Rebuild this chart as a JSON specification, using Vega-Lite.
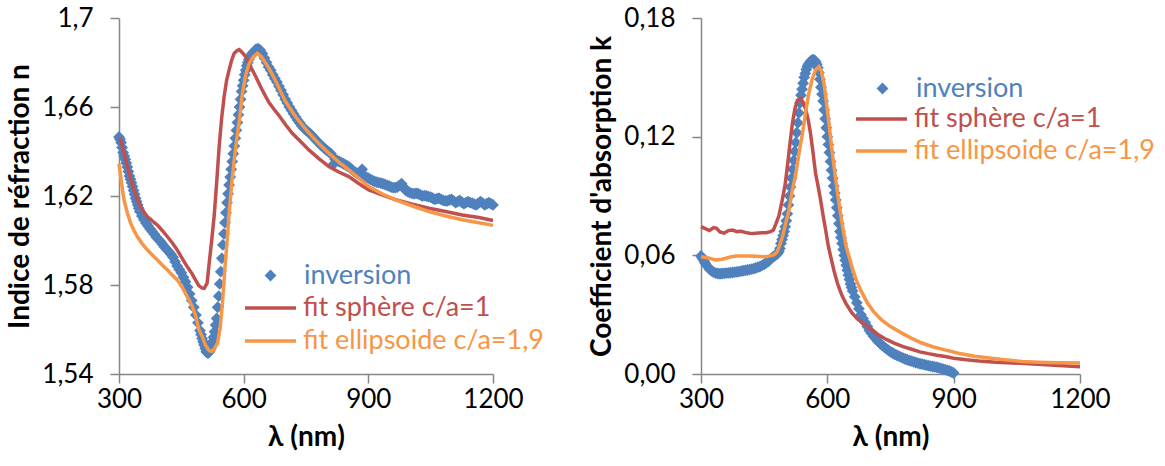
{
  "$schema": "https://vega.github.io/schema/vega-lite/v6.json",
  "padding": {"left": 6, "top": 5, "right": 5, "bottom": 5},
  "background": "white",
  "config": {
    "font": "Lato",
    "view": {"stroke": null},
    "axis": {
      "grid": false,
      "domainColor": "#868686", "domainWidth": 1.5,
      "tickColor": "#868686", "tickWidth": 1.5, "tickSize": 9,
      "labelFont": "Lato", "labelFontSize": 26, "labelColor": "#000000",
      "titleFont": "Lato", "titleFontSize": 28, "titleFontWeight": "bold", "titleColor": "#000000",
      "labelOverlap": false, "labelFlush": false
    },
    "axisX": {"labelPadding": 3, "titlePadding": 11},
    "axisY": {"labelPadding": 17, "titlePadding": 7},
    "legend": {"labelFont": "Lato", "labelFontSize": 27, "labelLimit": 0, "padding": 0, "title": null}
  },
  "datasets": {
    "left": [
      {"lambda": 300, "v": 1.6465, "s": "inversion"},
      {"lambda": 302.5, "v": 1.6455, "s": "inversion"},
      {"lambda": 305, "v": 1.6440, "s": "inversion"},
      {"lambda": 307.5, "v": 1.6418, "s": "inversion"},
      {"lambda": 310, "v": 1.6395, "s": "inversion"},
      {"lambda": 312.5, "v": 1.6380, "s": "inversion"},
      {"lambda": 315, "v": 1.6365, "s": "inversion"},
      {"lambda": 317.5, "v": 1.6348, "s": "inversion"},
      {"lambda": 320, "v": 1.6330, "s": "inversion"},
      {"lambda": 322.5, "v": 1.6310, "s": "inversion"},
      {"lambda": 325, "v": 1.6290, "s": "inversion"},
      {"lambda": 327.5, "v": 1.6275, "s": "inversion"},
      {"lambda": 330, "v": 1.6260, "s": "inversion"},
      {"lambda": 332.5, "v": 1.6243, "s": "inversion"},
      {"lambda": 335, "v": 1.6225, "s": "inversion"},
      {"lambda": 337.5, "v": 1.6208, "s": "inversion"},
      {"lambda": 340, "v": 1.6190, "s": "inversion"},
      {"lambda": 342.5, "v": 1.6175, "s": "inversion"},
      {"lambda": 345, "v": 1.6160, "s": "inversion"},
      {"lambda": 347.5, "v": 1.6145, "s": "inversion"},
      {"lambda": 350, "v": 1.6130, "s": "inversion"},
      {"lambda": 355, "v": 1.6110, "s": "inversion"},
      {"lambda": 360, "v": 1.6093, "s": "inversion"},
      {"lambda": 365, "v": 1.6078, "s": "inversion"},
      {"lambda": 370, "v": 1.6065, "s": "inversion"},
      {"lambda": 375, "v": 1.6052, "s": "inversion"},
      {"lambda": 380, "v": 1.6040, "s": "inversion"},
      {"lambda": 385, "v": 1.6028, "s": "inversion"},
      {"lambda": 390, "v": 1.6015, "s": "inversion"},
      {"lambda": 395, "v": 1.6005, "s": "inversion"},
      {"lambda": 400, "v": 1.5995, "s": "inversion"},
      {"lambda": 405, "v": 1.5982, "s": "inversion"},
      {"lambda": 410, "v": 1.5970, "s": "inversion"},
      {"lambda": 415, "v": 1.5960, "s": "inversion"},
      {"lambda": 420, "v": 1.5950, "s": "inversion"},
      {"lambda": 425, "v": 1.5938, "s": "inversion"},
      {"lambda": 430, "v": 1.5925, "s": "inversion"},
      {"lambda": 435, "v": 1.5905, "s": "inversion"},
      {"lambda": 440, "v": 1.5885, "s": "inversion"},
      {"lambda": 445, "v": 1.5870, "s": "inversion"},
      {"lambda": 450, "v": 1.5855, "s": "inversion"},
      {"lambda": 455, "v": 1.5835, "s": "inversion"},
      {"lambda": 460, "v": 1.5815, "s": "inversion"},
      {"lambda": 465, "v": 1.5790, "s": "inversion"},
      {"lambda": 470, "v": 1.5760, "s": "inversion"},
      {"lambda": 475, "v": 1.5730, "s": "inversion"},
      {"lambda": 480, "v": 1.5700, "s": "inversion"},
      {"lambda": 485, "v": 1.5665, "s": "inversion"},
      {"lambda": 490, "v": 1.5630, "s": "inversion"},
      {"lambda": 495, "v": 1.5595, "s": "inversion"},
      {"lambda": 497.5, "v": 1.5578, "s": "inversion"},
      {"lambda": 500, "v": 1.5560, "s": "inversion"},
      {"lambda": 502.5, "v": 1.5545, "s": "inversion"},
      {"lambda": 505, "v": 1.5530, "s": "inversion"},
      {"lambda": 507.5, "v": 1.5515, "s": "inversion"},
      {"lambda": 510, "v": 1.5500, "s": "inversion"},
      {"lambda": 512.5, "v": 1.5495, "s": "inversion"},
      {"lambda": 515, "v": 1.5495, "s": "inversion"},
      {"lambda": 517.5, "v": 1.5500, "s": "inversion"},
      {"lambda": 520, "v": 1.5510, "s": "inversion"},
      {"lambda": 522.5, "v": 1.5525, "s": "inversion"},
      {"lambda": 525, "v": 1.5545, "s": "inversion"},
      {"lambda": 527.5, "v": 1.5565, "s": "inversion"},
      {"lambda": 530, "v": 1.5590, "s": "inversion"},
      {"lambda": 532.5, "v": 1.5620, "s": "inversion"},
      {"lambda": 535, "v": 1.5650, "s": "inversion"},
      {"lambda": 537.5, "v": 1.5700, "s": "inversion"},
      {"lambda": 540, "v": 1.5750, "s": "inversion"},
      {"lambda": 542.5, "v": 1.5805, "s": "inversion"},
      {"lambda": 545, "v": 1.5860, "s": "inversion"},
      {"lambda": 547.5, "v": 1.5920, "s": "inversion"},
      {"lambda": 550, "v": 1.5980, "s": "inversion"},
      {"lambda": 552.5, "v": 1.6030, "s": "inversion"},
      {"lambda": 555, "v": 1.6080, "s": "inversion"},
      {"lambda": 557.5, "v": 1.6125, "s": "inversion"},
      {"lambda": 560, "v": 1.6170, "s": "inversion"},
      {"lambda": 562.5, "v": 1.6210, "s": "inversion"},
      {"lambda": 565, "v": 1.6250, "s": "inversion"},
      {"lambda": 567.5, "v": 1.6285, "s": "inversion"},
      {"lambda": 570, "v": 1.6320, "s": "inversion"},
      {"lambda": 572.5, "v": 1.6355, "s": "inversion"},
      {"lambda": 575, "v": 1.6390, "s": "inversion"},
      {"lambda": 577.5, "v": 1.6425, "s": "inversion"},
      {"lambda": 580, "v": 1.6460, "s": "inversion"},
      {"lambda": 582.5, "v": 1.6495, "s": "inversion"},
      {"lambda": 585, "v": 1.6530, "s": "inversion"},
      {"lambda": 587.5, "v": 1.6565, "s": "inversion"},
      {"lambda": 590, "v": 1.6600, "s": "inversion"},
      {"lambda": 592.5, "v": 1.6635, "s": "inversion"},
      {"lambda": 595, "v": 1.6670, "s": "inversion"},
      {"lambda": 597.5, "v": 1.6695, "s": "inversion"},
      {"lambda": 600, "v": 1.6720, "s": "inversion"},
      {"lambda": 602.5, "v": 1.6745, "s": "inversion"},
      {"lambda": 605, "v": 1.6765, "s": "inversion"},
      {"lambda": 607.5, "v": 1.6785, "s": "inversion"},
      {"lambda": 610, "v": 1.6800, "s": "inversion"},
      {"lambda": 612.5, "v": 1.6813, "s": "inversion"},
      {"lambda": 615, "v": 1.6825, "s": "inversion"},
      {"lambda": 620, "v": 1.6840, "s": "inversion"},
      {"lambda": 625, "v": 1.6850, "s": "inversion"},
      {"lambda": 630, "v": 1.6860, "s": "inversion"},
      {"lambda": 635, "v": 1.6862, "s": "inversion"},
      {"lambda": 640, "v": 1.6855, "s": "inversion"},
      {"lambda": 645, "v": 1.6840, "s": "inversion"},
      {"lambda": 650, "v": 1.6820, "s": "inversion"},
      {"lambda": 655, "v": 1.6800, "s": "inversion"},
      {"lambda": 660, "v": 1.6780, "s": "inversion"},
      {"lambda": 665, "v": 1.6765, "s": "inversion"},
      {"lambda": 670, "v": 1.6745, "s": "inversion"},
      {"lambda": 675, "v": 1.6728, "s": "inversion"},
      {"lambda": 680, "v": 1.6712, "s": "inversion"},
      {"lambda": 685, "v": 1.6693, "s": "inversion"},
      {"lambda": 690, "v": 1.6675, "s": "inversion"},
      {"lambda": 695, "v": 1.6655, "s": "inversion"},
      {"lambda": 700, "v": 1.6635, "s": "inversion"},
      {"lambda": 705, "v": 1.6618, "s": "inversion"},
      {"lambda": 710, "v": 1.6600, "s": "inversion"},
      {"lambda": 715, "v": 1.6585, "s": "inversion"},
      {"lambda": 720, "v": 1.6570, "s": "inversion"},
      {"lambda": 725, "v": 1.6555, "s": "inversion"},
      {"lambda": 730, "v": 1.6540, "s": "inversion"},
      {"lambda": 735, "v": 1.6528, "s": "inversion"},
      {"lambda": 740, "v": 1.6515, "s": "inversion"},
      {"lambda": 745, "v": 1.6505, "s": "inversion"},
      {"lambda": 750, "v": 1.6495, "s": "inversion"},
      {"lambda": 755, "v": 1.6488, "s": "inversion"},
      {"lambda": 760, "v": 1.6480, "s": "inversion"},
      {"lambda": 765, "v": 1.6470, "s": "inversion"},
      {"lambda": 770, "v": 1.6460, "s": "inversion"},
      {"lambda": 775, "v": 1.6450, "s": "inversion"},
      {"lambda": 780, "v": 1.6440, "s": "inversion"},
      {"lambda": 785, "v": 1.6430, "s": "inversion"},
      {"lambda": 790, "v": 1.6422, "s": "inversion"},
      {"lambda": 795, "v": 1.6413, "s": "inversion"},
      {"lambda": 800, "v": 1.6405, "s": "inversion"},
      {"lambda": 805, "v": 1.6398, "s": "inversion"},
      {"lambda": 810, "v": 1.6390, "s": "inversion"},
      {"lambda": 815, "v": 1.6340, "s": "inversion"},
      {"lambda": 820, "v": 1.6365, "s": "inversion"},
      {"lambda": 825, "v": 1.6360, "s": "inversion"},
      {"lambda": 830, "v": 1.6355, "s": "inversion"},
      {"lambda": 835, "v": 1.6350, "s": "inversion"},
      {"lambda": 840, "v": 1.6345, "s": "inversion"},
      {"lambda": 845, "v": 1.6340, "s": "inversion"},
      {"lambda": 850, "v": 1.6335, "s": "inversion"},
      {"lambda": 855, "v": 1.6328, "s": "inversion"},
      {"lambda": 860, "v": 1.6320, "s": "inversion"},
      {"lambda": 865, "v": 1.6312, "s": "inversion"},
      {"lambda": 870, "v": 1.6305, "s": "inversion"},
      {"lambda": 875, "v": 1.6300, "s": "inversion"},
      {"lambda": 880, "v": 1.6295, "s": "inversion"},
      {"lambda": 885, "v": 1.6320, "s": "inversion"},
      {"lambda": 890, "v": 1.6290, "s": "inversion"},
      {"lambda": 895, "v": 1.6285, "s": "inversion"},
      {"lambda": 900, "v": 1.6280, "s": "inversion"},
      {"lambda": 905, "v": 1.6275, "s": "inversion"},
      {"lambda": 910, "v": 1.6270, "s": "inversion"},
      {"lambda": 915, "v": 1.6265, "s": "inversion"},
      {"lambda": 920, "v": 1.6262, "s": "inversion"},
      {"lambda": 925, "v": 1.6260, "s": "inversion"},
      {"lambda": 930, "v": 1.6258, "s": "inversion"},
      {"lambda": 935, "v": 1.6255, "s": "inversion"},
      {"lambda": 940, "v": 1.6252, "s": "inversion"},
      {"lambda": 945, "v": 1.6248, "s": "inversion"},
      {"lambda": 950, "v": 1.6245, "s": "inversion"},
      {"lambda": 955, "v": 1.6240, "s": "inversion"},
      {"lambda": 960, "v": 1.6238, "s": "inversion"},
      {"lambda": 965, "v": 1.6238, "s": "inversion"},
      {"lambda": 970, "v": 1.6240, "s": "inversion"},
      {"lambda": 975, "v": 1.6248, "s": "inversion"},
      {"lambda": 980, "v": 1.6255, "s": "inversion"},
      {"lambda": 985, "v": 1.6240, "s": "inversion"},
      {"lambda": 990, "v": 1.6225, "s": "inversion"},
      {"lambda": 995, "v": 1.6220, "s": "inversion"},
      {"lambda": 1000, "v": 1.6215, "s": "inversion"},
      {"lambda": 1005, "v": 1.6212, "s": "inversion"},
      {"lambda": 1010, "v": 1.6210, "s": "inversion"},
      {"lambda": 1015, "v": 1.6212, "s": "inversion"},
      {"lambda": 1020, "v": 1.6210, "s": "inversion"},
      {"lambda": 1025, "v": 1.6205, "s": "inversion"},
      {"lambda": 1030, "v": 1.6200, "s": "inversion"},
      {"lambda": 1035, "v": 1.6202, "s": "inversion"},
      {"lambda": 1040, "v": 1.6200, "s": "inversion"},
      {"lambda": 1045, "v": 1.6197, "s": "inversion"},
      {"lambda": 1050, "v": 1.6195, "s": "inversion"},
      {"lambda": 1055, "v": 1.6190, "s": "inversion"},
      {"lambda": 1060, "v": 1.6185, "s": "inversion"},
      {"lambda": 1065, "v": 1.6188, "s": "inversion"},
      {"lambda": 1070, "v": 1.6190, "s": "inversion"},
      {"lambda": 1075, "v": 1.6185, "s": "inversion"},
      {"lambda": 1080, "v": 1.6180, "s": "inversion"},
      {"lambda": 1085, "v": 1.6178, "s": "inversion"},
      {"lambda": 1090, "v": 1.6178, "s": "inversion"},
      {"lambda": 1095, "v": 1.6182, "s": "inversion"},
      {"lambda": 1100, "v": 1.6185, "s": "inversion"},
      {"lambda": 1105, "v": 1.6178, "s": "inversion"},
      {"lambda": 1110, "v": 1.6170, "s": "inversion"},
      {"lambda": 1115, "v": 1.6175, "s": "inversion"},
      {"lambda": 1120, "v": 1.6180, "s": "inversion"},
      {"lambda": 1125, "v": 1.6172, "s": "inversion"},
      {"lambda": 1130, "v": 1.6165, "s": "inversion"},
      {"lambda": 1135, "v": 1.6170, "s": "inversion"},
      {"lambda": 1140, "v": 1.6175, "s": "inversion"},
      {"lambda": 1145, "v": 1.6170, "s": "inversion"},
      {"lambda": 1150, "v": 1.6168, "s": "inversion"},
      {"lambda": 1155, "v": 1.6163, "s": "inversion"},
      {"lambda": 1160, "v": 1.6160, "s": "inversion"},
      {"lambda": 1165, "v": 1.6168, "s": "inversion"},
      {"lambda": 1170, "v": 1.6175, "s": "inversion"},
      {"lambda": 1175, "v": 1.6168, "s": "inversion"},
      {"lambda": 1180, "v": 1.6160, "s": "inversion"},
      {"lambda": 1185, "v": 1.6165, "s": "inversion"},
      {"lambda": 1190, "v": 1.6170, "s": "inversion"},
      {"lambda": 1195, "v": 1.6165, "s": "inversion"},
      {"lambda": 1200, "v": 1.6160, "s": "inversion"},

      {"lambda": 300, "v": 1.6460, "s": "fit sphère c/a=1"},
      {"lambda": 304, "v": 1.6452, "s": "fit sphère c/a=1"},
      {"lambda": 312, "v": 1.6395, "s": "fit sphère c/a=1"},
      {"lambda": 320, "v": 1.6333, "s": "fit sphère c/a=1"},
      {"lambda": 328, "v": 1.6280, "s": "fit sphère c/a=1"},
      {"lambda": 336, "v": 1.6228, "s": "fit sphère c/a=1"},
      {"lambda": 344, "v": 1.6185, "s": "fit sphère c/a=1"},
      {"lambda": 352, "v": 1.6153, "s": "fit sphère c/a=1"},
      {"lambda": 360, "v": 1.6128, "s": "fit sphère c/a=1"},
      {"lambda": 368, "v": 1.6108, "s": "fit sphère c/a=1"},
      {"lambda": 380, "v": 1.6088, "s": "fit sphère c/a=1"},
      {"lambda": 392, "v": 1.6070, "s": "fit sphère c/a=1"},
      {"lambda": 404, "v": 1.6045, "s": "fit sphère c/a=1"},
      {"lambda": 416, "v": 1.6018, "s": "fit sphère c/a=1"},
      {"lambda": 428, "v": 1.5990, "s": "fit sphère c/a=1"},
      {"lambda": 440, "v": 1.5958, "s": "fit sphère c/a=1"},
      {"lambda": 452, "v": 1.5920, "s": "fit sphère c/a=1"},
      {"lambda": 464, "v": 1.5883, "s": "fit sphère c/a=1"},
      {"lambda": 476, "v": 1.5850, "s": "fit sphère c/a=1"},
      {"lambda": 484, "v": 1.5823, "s": "fit sphère c/a=1"},
      {"lambda": 492, "v": 1.5797, "s": "fit sphère c/a=1"},
      {"lambda": 500, "v": 1.5786, "s": "fit sphère c/a=1"},
      {"lambda": 505, "v": 1.5785, "s": "fit sphère c/a=1"},
      {"lambda": 512, "v": 1.5808, "s": "fit sphère c/a=1"},
      {"lambda": 517, "v": 1.5898, "s": "fit sphère c/a=1"},
      {"lambda": 523, "v": 1.6000, "s": "fit sphère c/a=1"},
      {"lambda": 529, "v": 1.6110, "s": "fit sphère c/a=1"},
      {"lambda": 535, "v": 1.6260, "s": "fit sphère c/a=1"},
      {"lambda": 541, "v": 1.6422, "s": "fit sphère c/a=1"},
      {"lambda": 547, "v": 1.6550, "s": "fit sphère c/a=1"},
      {"lambda": 553, "v": 1.6647, "s": "fit sphère c/a=1"},
      {"lambda": 559, "v": 1.6720, "s": "fit sphère c/a=1"},
      {"lambda": 565, "v": 1.6767, "s": "fit sphère c/a=1"},
      {"lambda": 571, "v": 1.6810, "s": "fit sphère c/a=1"},
      {"lambda": 577, "v": 1.6841, "s": "fit sphère c/a=1"},
      {"lambda": 583, "v": 1.6852, "s": "fit sphère c/a=1"},
      {"lambda": 589, "v": 1.6858, "s": "fit sphère c/a=1"},
      {"lambda": 595, "v": 1.6848, "s": "fit sphère c/a=1"},
      {"lambda": 605, "v": 1.6826, "s": "fit sphère c/a=1"},
      {"lambda": 617, "v": 1.6780, "s": "fit sphère c/a=1"},
      {"lambda": 629, "v": 1.6737, "s": "fit sphère c/a=1"},
      {"lambda": 641, "v": 1.6690, "s": "fit sphère c/a=1"},
      {"lambda": 653, "v": 1.6647, "s": "fit sphère c/a=1"},
      {"lambda": 661, "v": 1.6620, "s": "fit sphère c/a=1"},
      {"lambda": 673, "v": 1.6590, "s": "fit sphère c/a=1"},
      {"lambda": 685, "v": 1.6562, "s": "fit sphère c/a=1"},
      {"lambda": 701, "v": 1.6520, "s": "fit sphère c/a=1"},
      {"lambda": 717, "v": 1.6482, "s": "fit sphère c/a=1"},
      {"lambda": 737, "v": 1.6445, "s": "fit sphère c/a=1"},
      {"lambda": 757, "v": 1.6407, "s": "fit sphère c/a=1"},
      {"lambda": 781, "v": 1.6368, "s": "fit sphère c/a=1"},
      {"lambda": 805, "v": 1.6332, "s": "fit sphère c/a=1"},
      {"lambda": 829, "v": 1.6308, "s": "fit sphère c/a=1"},
      {"lambda": 853, "v": 1.6287, "s": "fit sphère c/a=1"},
      {"lambda": 877, "v": 1.6256, "s": "fit sphère c/a=1"},
      {"lambda": 901, "v": 1.6227, "s": "fit sphère c/a=1"},
      {"lambda": 933, "v": 1.6205, "s": "fit sphère c/a=1"},
      {"lambda": 966, "v": 1.6183, "s": "fit sphère c/a=1"},
      {"lambda": 1006, "v": 1.6163, "s": "fit sphère c/a=1"},
      {"lambda": 1046, "v": 1.6145, "s": "fit sphère c/a=1"},
      {"lambda": 1086, "v": 1.6130, "s": "fit sphère c/a=1"},
      {"lambda": 1126, "v": 1.6115, "s": "fit sphère c/a=1"},
      {"lambda": 1166, "v": 1.6103, "s": "fit sphère c/a=1"},
      {"lambda": 1200, "v": 1.6090, "s": "fit sphère c/a=1"},

      {"lambda": 300, "v": 1.6345, "s": "fit ellipsoide c/a=1,9"},
      {"lambda": 306, "v": 1.6260, "s": "fit ellipsoide c/a=1,9"},
      {"lambda": 312, "v": 1.6183, "s": "fit ellipsoide c/a=1,9"},
      {"lambda": 320, "v": 1.6125, "s": "fit ellipsoide c/a=1,9"},
      {"lambda": 328, "v": 1.6078, "s": "fit ellipsoide c/a=1,9"},
      {"lambda": 336, "v": 1.6045, "s": "fit ellipsoide c/a=1,9"},
      {"lambda": 344, "v": 1.6018, "s": "fit ellipsoide c/a=1,9"},
      {"lambda": 356, "v": 1.5985, "s": "fit ellipsoide c/a=1,9"},
      {"lambda": 368, "v": 1.5958, "s": "fit ellipsoide c/a=1,9"},
      {"lambda": 380, "v": 1.5935, "s": "fit ellipsoide c/a=1,9"},
      {"lambda": 392, "v": 1.5913, "s": "fit ellipsoide c/a=1,9"},
      {"lambda": 404, "v": 1.5890, "s": "fit ellipsoide c/a=1,9"},
      {"lambda": 416, "v": 1.5868, "s": "fit ellipsoide c/a=1,9"},
      {"lambda": 428, "v": 1.5845, "s": "fit ellipsoide c/a=1,9"},
      {"lambda": 440, "v": 1.5823, "s": "fit ellipsoide c/a=1,9"},
      {"lambda": 452, "v": 1.5790, "s": "fit ellipsoide c/a=1,9"},
      {"lambda": 464, "v": 1.5749, "s": "fit ellipsoide c/a=1,9"},
      {"lambda": 476, "v": 1.5705, "s": "fit ellipsoide c/a=1,9"},
      {"lambda": 484, "v": 1.5665, "s": "fit ellipsoide c/a=1,9"},
      {"lambda": 492, "v": 1.5600, "s": "fit ellipsoide c/a=1,9"},
      {"lambda": 500, "v": 1.5570, "s": "fit ellipsoide c/a=1,9"},
      {"lambda": 508, "v": 1.5530, "s": "fit ellipsoide c/a=1,9"},
      {"lambda": 517, "v": 1.5505, "s": "fit ellipsoide c/a=1,9"},
      {"lambda": 524, "v": 1.5502, "s": "fit ellipsoide c/a=1,9"},
      {"lambda": 530, "v": 1.5515, "s": "fit ellipsoide c/a=1,9"},
      {"lambda": 537, "v": 1.5539, "s": "fit ellipsoide c/a=1,9"},
      {"lambda": 543, "v": 1.5600, "s": "fit ellipsoide c/a=1,9"},
      {"lambda": 549, "v": 1.5720, "s": "fit ellipsoide c/a=1,9"},
      {"lambda": 555, "v": 1.5880, "s": "fit ellipsoide c/a=1,9"},
      {"lambda": 561, "v": 1.6018, "s": "fit ellipsoide c/a=1,9"},
      {"lambda": 565, "v": 1.6123, "s": "fit ellipsoide c/a=1,9"},
      {"lambda": 571, "v": 1.6250, "s": "fit ellipsoide c/a=1,9"},
      {"lambda": 577, "v": 1.6360, "s": "fit ellipsoide c/a=1,9"},
      {"lambda": 583, "v": 1.6450, "s": "fit ellipsoide c/a=1,9"},
      {"lambda": 589, "v": 1.6530, "s": "fit ellipsoide c/a=1,9"},
      {"lambda": 597, "v": 1.6660, "s": "fit ellipsoide c/a=1,9"},
      {"lambda": 605, "v": 1.6745, "s": "fit ellipsoide c/a=1,9"},
      {"lambda": 613, "v": 1.6795, "s": "fit ellipsoide c/a=1,9"},
      {"lambda": 623, "v": 1.6825, "s": "fit ellipsoide c/a=1,9"},
      {"lambda": 633, "v": 1.6841, "s": "fit ellipsoide c/a=1,9"},
      {"lambda": 643, "v": 1.6825, "s": "fit ellipsoide c/a=1,9"},
      {"lambda": 653, "v": 1.6797, "s": "fit ellipsoide c/a=1,9"},
      {"lambda": 665, "v": 1.6760, "s": "fit ellipsoide c/a=1,9"},
      {"lambda": 677, "v": 1.6717, "s": "fit ellipsoide c/a=1,9"},
      {"lambda": 689, "v": 1.6670, "s": "fit ellipsoide c/a=1,9"},
      {"lambda": 701, "v": 1.6624, "s": "fit ellipsoide c/a=1,9"},
      {"lambda": 713, "v": 1.6590, "s": "fit ellipsoide c/a=1,9"},
      {"lambda": 725, "v": 1.6557, "s": "fit ellipsoide c/a=1,9"},
      {"lambda": 745, "v": 1.6510, "s": "fit ellipsoide c/a=1,9"},
      {"lambda": 765, "v": 1.6467, "s": "fit ellipsoide c/a=1,9"},
      {"lambda": 785, "v": 1.6428, "s": "fit ellipsoide c/a=1,9"},
      {"lambda": 805, "v": 1.6392, "s": "fit ellipsoide c/a=1,9"},
      {"lambda": 829, "v": 1.6352, "s": "fit ellipsoide c/a=1,9"},
      {"lambda": 853, "v": 1.6317, "s": "fit ellipsoide c/a=1,9"},
      {"lambda": 877, "v": 1.6280, "s": "fit ellipsoide c/a=1,9"},
      {"lambda": 901, "v": 1.6242, "s": "fit ellipsoide c/a=1,9"},
      {"lambda": 933, "v": 1.6210, "s": "fit ellipsoide c/a=1,9"},
      {"lambda": 966, "v": 1.6183, "s": "fit ellipsoide c/a=1,9"},
      {"lambda": 1006, "v": 1.6155, "s": "fit ellipsoide c/a=1,9"},
      {"lambda": 1046, "v": 1.6130, "s": "fit ellipsoide c/a=1,9"},
      {"lambda": 1086, "v": 1.6110, "s": "fit ellipsoide c/a=1,9"},
      {"lambda": 1126, "v": 1.6093, "s": "fit ellipsoide c/a=1,9"},
      {"lambda": 1166, "v": 1.6080, "s": "fit ellipsoide c/a=1,9"},
      {"lambda": 1200, "v": 1.6068, "s": "fit ellipsoide c/a=1,9"}
    ],
    "right": [
      {"lambda": 300, "v": 0.0597, "s": "inversion"},
      {"lambda": 302.5, "v": 0.0588, "s": "inversion"},
      {"lambda": 305, "v": 0.0580, "s": "inversion"},
      {"lambda": 307.5, "v": 0.0570, "s": "inversion"},
      {"lambda": 310, "v": 0.0560, "s": "inversion"},
      {"lambda": 315, "v": 0.0545, "s": "inversion"},
      {"lambda": 320, "v": 0.0530, "s": "inversion"},
      {"lambda": 325, "v": 0.0522, "s": "inversion"},
      {"lambda": 330, "v": 0.0515, "s": "inversion"},
      {"lambda": 335, "v": 0.0510, "s": "inversion"},
      {"lambda": 340, "v": 0.0508, "s": "inversion"},
      {"lambda": 345, "v": 0.0507, "s": "inversion"},
      {"lambda": 350, "v": 0.0508, "s": "inversion"},
      {"lambda": 355, "v": 0.0509, "s": "inversion"},
      {"lambda": 360, "v": 0.0510, "s": "inversion"},
      {"lambda": 365, "v": 0.0511, "s": "inversion"},
      {"lambda": 370, "v": 0.0512, "s": "inversion"},
      {"lambda": 375, "v": 0.0513, "s": "inversion"},
      {"lambda": 380, "v": 0.0515, "s": "inversion"},
      {"lambda": 385, "v": 0.0516, "s": "inversion"},
      {"lambda": 390, "v": 0.0518, "s": "inversion"},
      {"lambda": 395, "v": 0.0520, "s": "inversion"},
      {"lambda": 400, "v": 0.0522, "s": "inversion"},
      {"lambda": 405, "v": 0.0524, "s": "inversion"},
      {"lambda": 410, "v": 0.0526, "s": "inversion"},
      {"lambda": 415, "v": 0.0528, "s": "inversion"},
      {"lambda": 420, "v": 0.0530, "s": "inversion"},
      {"lambda": 425, "v": 0.0533, "s": "inversion"},
      {"lambda": 430, "v": 0.0536, "s": "inversion"},
      {"lambda": 435, "v": 0.0540, "s": "inversion"},
      {"lambda": 440, "v": 0.0543, "s": "inversion"},
      {"lambda": 445, "v": 0.0549, "s": "inversion"},
      {"lambda": 450, "v": 0.0555, "s": "inversion"},
      {"lambda": 455, "v": 0.0562, "s": "inversion"},
      {"lambda": 460, "v": 0.0570, "s": "inversion"},
      {"lambda": 465, "v": 0.0580, "s": "inversion"},
      {"lambda": 470, "v": 0.0590, "s": "inversion"},
      {"lambda": 475, "v": 0.0597, "s": "inversion"},
      {"lambda": 480, "v": 0.0605, "s": "inversion"},
      {"lambda": 482.5, "v": 0.0612, "s": "inversion"},
      {"lambda": 485, "v": 0.0620, "s": "inversion"},
      {"lambda": 487.5, "v": 0.0635, "s": "inversion"},
      {"lambda": 490, "v": 0.0660, "s": "inversion"},
      {"lambda": 492.5, "v": 0.0680, "s": "inversion"},
      {"lambda": 495, "v": 0.0700, "s": "inversion"},
      {"lambda": 497.5, "v": 0.0720, "s": "inversion"},
      {"lambda": 500, "v": 0.0745, "s": "inversion"},
      {"lambda": 502.5, "v": 0.0775, "s": "inversion"},
      {"lambda": 505, "v": 0.0810, "s": "inversion"},
      {"lambda": 507.5, "v": 0.0855, "s": "inversion"},
      {"lambda": 510, "v": 0.0900, "s": "inversion"},
      {"lambda": 512.5, "v": 0.0945, "s": "inversion"},
      {"lambda": 515, "v": 0.0990, "s": "inversion"},
      {"lambda": 517.5, "v": 0.1035, "s": "inversion"},
      {"lambda": 520, "v": 0.1080, "s": "inversion"},
      {"lambda": 522.5, "v": 0.1125, "s": "inversion"},
      {"lambda": 525, "v": 0.1170, "s": "inversion"},
      {"lambda": 527.5, "v": 0.1220, "s": "inversion"},
      {"lambda": 530, "v": 0.1270, "s": "inversion"},
      {"lambda": 532.5, "v": 0.1320, "s": "inversion"},
      {"lambda": 535, "v": 0.1370, "s": "inversion"},
      {"lambda": 537.5, "v": 0.1410, "s": "inversion"},
      {"lambda": 540, "v": 0.1440, "s": "inversion"},
      {"lambda": 542.5, "v": 0.1470, "s": "inversion"},
      {"lambda": 545, "v": 0.1500, "s": "inversion"},
      {"lambda": 547.5, "v": 0.1520, "s": "inversion"},
      {"lambda": 550, "v": 0.1540, "s": "inversion"},
      {"lambda": 552.5, "v": 0.1555, "s": "inversion"},
      {"lambda": 555, "v": 0.1565, "s": "inversion"},
      {"lambda": 557.5, "v": 0.1573, "s": "inversion"},
      {"lambda": 560, "v": 0.1580, "s": "inversion"},
      {"lambda": 562.5, "v": 0.1585, "s": "inversion"},
      {"lambda": 565, "v": 0.1588, "s": "inversion"},
      {"lambda": 567.5, "v": 0.1588, "s": "inversion"},
      {"lambda": 570, "v": 0.1585, "s": "inversion"},
      {"lambda": 572.5, "v": 0.1577, "s": "inversion"},
      {"lambda": 575, "v": 0.1565, "s": "inversion"},
      {"lambda": 577.5, "v": 0.1548, "s": "inversion"},
      {"lambda": 580, "v": 0.1525, "s": "inversion"},
      {"lambda": 582.5, "v": 0.1490, "s": "inversion"},
      {"lambda": 585, "v": 0.1450, "s": "inversion"},
      {"lambda": 587.5, "v": 0.1415, "s": "inversion"},
      {"lambda": 590, "v": 0.1380, "s": "inversion"},
      {"lambda": 592.5, "v": 0.1335, "s": "inversion"},
      {"lambda": 595, "v": 0.1290, "s": "inversion"},
      {"lambda": 597.5, "v": 0.1245, "s": "inversion"},
      {"lambda": 600, "v": 0.1200, "s": "inversion"},
      {"lambda": 602.5, "v": 0.1160, "s": "inversion"},
      {"lambda": 605, "v": 0.1120, "s": "inversion"},
      {"lambda": 607.5, "v": 0.1075, "s": "inversion"},
      {"lambda": 610, "v": 0.1030, "s": "inversion"},
      {"lambda": 612.5, "v": 0.0990, "s": "inversion"},
      {"lambda": 615, "v": 0.0950, "s": "inversion"},
      {"lambda": 617.5, "v": 0.0915, "s": "inversion"},
      {"lambda": 620, "v": 0.0880, "s": "inversion"},
      {"lambda": 622.5, "v": 0.0840, "s": "inversion"},
      {"lambda": 625, "v": 0.0800, "s": "inversion"},
      {"lambda": 627.5, "v": 0.0760, "s": "inversion"},
      {"lambda": 630, "v": 0.0720, "s": "inversion"},
      {"lambda": 632.5, "v": 0.0690, "s": "inversion"},
      {"lambda": 635, "v": 0.0660, "s": "inversion"},
      {"lambda": 637.5, "v": 0.0630, "s": "inversion"},
      {"lambda": 640, "v": 0.0600, "s": "inversion"},
      {"lambda": 642.5, "v": 0.0575, "s": "inversion"},
      {"lambda": 645, "v": 0.0550, "s": "inversion"},
      {"lambda": 647.5, "v": 0.0525, "s": "inversion"},
      {"lambda": 650, "v": 0.0500, "s": "inversion"},
      {"lambda": 652.5, "v": 0.0478, "s": "inversion"},
      {"lambda": 655, "v": 0.0455, "s": "inversion"},
      {"lambda": 657.5, "v": 0.0437, "s": "inversion"},
      {"lambda": 660, "v": 0.0420, "s": "inversion"},
      {"lambda": 665, "v": 0.0390, "s": "inversion"},
      {"lambda": 670, "v": 0.0360, "s": "inversion"},
      {"lambda": 675, "v": 0.0330, "s": "inversion"},
      {"lambda": 680, "v": 0.0300, "s": "inversion"},
      {"lambda": 685, "v": 0.0280, "s": "inversion"},
      {"lambda": 690, "v": 0.0260, "s": "inversion"},
      {"lambda": 695, "v": 0.0240, "s": "inversion"},
      {"lambda": 700, "v": 0.0220, "s": "inversion"},
      {"lambda": 705, "v": 0.0205, "s": "inversion"},
      {"lambda": 710, "v": 0.0190, "s": "inversion"},
      {"lambda": 715, "v": 0.0178, "s": "inversion"},
      {"lambda": 720, "v": 0.0165, "s": "inversion"},
      {"lambda": 725, "v": 0.0155, "s": "inversion"},
      {"lambda": 730, "v": 0.0145, "s": "inversion"},
      {"lambda": 735, "v": 0.0136, "s": "inversion"},
      {"lambda": 740, "v": 0.0128, "s": "inversion"},
      {"lambda": 745, "v": 0.0120, "s": "inversion"},
      {"lambda": 750, "v": 0.0112, "s": "inversion"},
      {"lambda": 755, "v": 0.0106, "s": "inversion"},
      {"lambda": 760, "v": 0.0100, "s": "inversion"},
      {"lambda": 765, "v": 0.0095, "s": "inversion"},
      {"lambda": 770, "v": 0.0090, "s": "inversion"},
      {"lambda": 775, "v": 0.0085, "s": "inversion"},
      {"lambda": 780, "v": 0.0080, "s": "inversion"},
      {"lambda": 785, "v": 0.0076, "s": "inversion"},
      {"lambda": 790, "v": 0.0072, "s": "inversion"},
      {"lambda": 795, "v": 0.0068, "s": "inversion"},
      {"lambda": 800, "v": 0.0065, "s": "inversion"},
      {"lambda": 805, "v": 0.0061, "s": "inversion"},
      {"lambda": 810, "v": 0.0058, "s": "inversion"},
      {"lambda": 815, "v": 0.0055, "s": "inversion"},
      {"lambda": 820, "v": 0.0052, "s": "inversion"},
      {"lambda": 825, "v": 0.0050, "s": "inversion"},
      {"lambda": 830, "v": 0.0047, "s": "inversion"},
      {"lambda": 835, "v": 0.0045, "s": "inversion"},
      {"lambda": 840, "v": 0.0042, "s": "inversion"},
      {"lambda": 845, "v": 0.0040, "s": "inversion"},
      {"lambda": 850, "v": 0.0038, "s": "inversion"},
      {"lambda": 855, "v": 0.0036, "s": "inversion"},
      {"lambda": 860, "v": 0.0034, "s": "inversion"},
      {"lambda": 865, "v": 0.0031, "s": "inversion"},
      {"lambda": 870, "v": 0.0028, "s": "inversion"},
      {"lambda": 875, "v": 0.0025, "s": "inversion"},
      {"lambda": 880, "v": 0.0022, "s": "inversion"},
      {"lambda": 885, "v": 0.0018, "s": "inversion"},
      {"lambda": 890, "v": 0.0015, "s": "inversion"},
      {"lambda": 895, "v": 0.0010, "s": "inversion"},
      {"lambda": 900, "v": 0.0005, "s": "inversion"},

      {"lambda": 300, "v": 0.0745, "s": "fit sphère c/a=1"},
      {"lambda": 310, "v": 0.0735, "s": "fit sphère c/a=1"},
      {"lambda": 320, "v": 0.0726, "s": "fit sphère c/a=1"},
      {"lambda": 330, "v": 0.0740, "s": "fit sphère c/a=1"},
      {"lambda": 337, "v": 0.0737, "s": "fit sphère c/a=1"},
      {"lambda": 345, "v": 0.0718, "s": "fit sphère c/a=1"},
      {"lambda": 355, "v": 0.0712, "s": "fit sphère c/a=1"},
      {"lambda": 365, "v": 0.0725, "s": "fit sphère c/a=1"},
      {"lambda": 375, "v": 0.0728, "s": "fit sphère c/a=1"},
      {"lambda": 385, "v": 0.0720, "s": "fit sphère c/a=1"},
      {"lambda": 395, "v": 0.0722, "s": "fit sphère c/a=1"},
      {"lambda": 405, "v": 0.0716, "s": "fit sphère c/a=1"},
      {"lambda": 415, "v": 0.0712, "s": "fit sphère c/a=1"},
      {"lambda": 425, "v": 0.0711, "s": "fit sphère c/a=1"},
      {"lambda": 435, "v": 0.0713, "s": "fit sphère c/a=1"},
      {"lambda": 445, "v": 0.0714, "s": "fit sphère c/a=1"},
      {"lambda": 455, "v": 0.0714, "s": "fit sphère c/a=1"},
      {"lambda": 465, "v": 0.0720, "s": "fit sphère c/a=1"},
      {"lambda": 472, "v": 0.0728, "s": "fit sphère c/a=1"},
      {"lambda": 478, "v": 0.0760, "s": "fit sphère c/a=1"},
      {"lambda": 485, "v": 0.0800, "s": "fit sphère c/a=1"},
      {"lambda": 493, "v": 0.0880, "s": "fit sphère c/a=1"},
      {"lambda": 500, "v": 0.0960, "s": "fit sphère c/a=1"},
      {"lambda": 505, "v": 0.1048, "s": "fit sphère c/a=1"},
      {"lambda": 511, "v": 0.1160, "s": "fit sphère c/a=1"},
      {"lambda": 517, "v": 0.1267, "s": "fit sphère c/a=1"},
      {"lambda": 523, "v": 0.1340, "s": "fit sphère c/a=1"},
      {"lambda": 529, "v": 0.1385, "s": "fit sphère c/a=1"},
      {"lambda": 537, "v": 0.1394, "s": "fit sphère c/a=1"},
      {"lambda": 543, "v": 0.1370, "s": "fit sphère c/a=1"},
      {"lambda": 549, "v": 0.1335, "s": "fit sphère c/a=1"},
      {"lambda": 555, "v": 0.1280, "s": "fit sphère c/a=1"},
      {"lambda": 560, "v": 0.1217, "s": "fit sphère c/a=1"},
      {"lambda": 566, "v": 0.1120, "s": "fit sphère c/a=1"},
      {"lambda": 572, "v": 0.1015, "s": "fit sphère c/a=1"},
      {"lambda": 578, "v": 0.0950, "s": "fit sphère c/a=1"},
      {"lambda": 584, "v": 0.0880, "s": "fit sphère c/a=1"},
      {"lambda": 590, "v": 0.0800, "s": "fit sphère c/a=1"},
      {"lambda": 596, "v": 0.0728, "s": "fit sphère c/a=1"},
      {"lambda": 602, "v": 0.0650, "s": "fit sphère c/a=1"},
      {"lambda": 608, "v": 0.0593, "s": "fit sphère c/a=1"},
      {"lambda": 616, "v": 0.0520, "s": "fit sphère c/a=1"},
      {"lambda": 624, "v": 0.0459, "s": "fit sphère c/a=1"},
      {"lambda": 634, "v": 0.0400, "s": "fit sphère c/a=1"},
      {"lambda": 644, "v": 0.0357, "s": "fit sphère c/a=1"},
      {"lambda": 658, "v": 0.0310, "s": "fit sphère c/a=1"},
      {"lambda": 671, "v": 0.0280, "s": "fit sphère c/a=1"},
      {"lambda": 685, "v": 0.0255, "s": "fit sphère c/a=1"},
      {"lambda": 699, "v": 0.0235, "s": "fit sphère c/a=1"},
      {"lambda": 720, "v": 0.0200, "s": "fit sphère c/a=1"},
      {"lambda": 740, "v": 0.0175, "s": "fit sphère c/a=1"},
      {"lambda": 760, "v": 0.0155, "s": "fit sphère c/a=1"},
      {"lambda": 780, "v": 0.0138, "s": "fit sphère c/a=1"},
      {"lambda": 800, "v": 0.0125, "s": "fit sphère c/a=1"},
      {"lambda": 820, "v": 0.0112, "s": "fit sphère c/a=1"},
      {"lambda": 840, "v": 0.0103, "s": "fit sphère c/a=1"},
      {"lambda": 860, "v": 0.0095, "s": "fit sphère c/a=1"},
      {"lambda": 880, "v": 0.0088, "s": "fit sphère c/a=1"},
      {"lambda": 900, "v": 0.0080, "s": "fit sphère c/a=1"},
      {"lambda": 930, "v": 0.0072, "s": "fit sphère c/a=1"},
      {"lambda": 960, "v": 0.0066, "s": "fit sphère c/a=1"},
      {"lambda": 1000, "v": 0.0060, "s": "fit sphère c/a=1"},
      {"lambda": 1040, "v": 0.0056, "s": "fit sphère c/a=1"},
      {"lambda": 1080, "v": 0.0052, "s": "fit sphère c/a=1"},
      {"lambda": 1120, "v": 0.0047, "s": "fit sphère c/a=1"},
      {"lambda": 1160, "v": 0.0042, "s": "fit sphère c/a=1"},
      {"lambda": 1200, "v": 0.0037, "s": "fit sphère c/a=1"},

      {"lambda": 300, "v": 0.0593, "s": "fit ellipsoide c/a=1,9"},
      {"lambda": 320, "v": 0.0585, "s": "fit ellipsoide c/a=1,9"},
      {"lambda": 335, "v": 0.0576, "s": "fit ellipsoide c/a=1,9"},
      {"lambda": 350, "v": 0.0580, "s": "fit ellipsoide c/a=1,9"},
      {"lambda": 359, "v": 0.0585, "s": "fit ellipsoide c/a=1,9"},
      {"lambda": 370, "v": 0.0592, "s": "fit ellipsoide c/a=1,9"},
      {"lambda": 383, "v": 0.0597, "s": "fit ellipsoide c/a=1,9"},
      {"lambda": 400, "v": 0.0597, "s": "fit ellipsoide c/a=1,9"},
      {"lambda": 414, "v": 0.0597, "s": "fit ellipsoide c/a=1,9"},
      {"lambda": 430, "v": 0.0595, "s": "fit ellipsoide c/a=1,9"},
      {"lambda": 454, "v": 0.0593, "s": "fit ellipsoide c/a=1,9"},
      {"lambda": 473, "v": 0.0602, "s": "fit ellipsoide c/a=1,9"},
      {"lambda": 480, "v": 0.0615, "s": "fit ellipsoide c/a=1,9"},
      {"lambda": 485, "v": 0.0640, "s": "fit ellipsoide c/a=1,9"},
      {"lambda": 493, "v": 0.0690, "s": "fit ellipsoide c/a=1,9"},
      {"lambda": 501, "v": 0.0760, "s": "fit ellipsoide c/a=1,9"},
      {"lambda": 509, "v": 0.0830, "s": "fit ellipsoide c/a=1,9"},
      {"lambda": 517, "v": 0.0930, "s": "fit ellipsoide c/a=1,9"},
      {"lambda": 525, "v": 0.1010, "s": "fit ellipsoide c/a=1,9"},
      {"lambda": 533, "v": 0.1120, "s": "fit ellipsoide c/a=1,9"},
      {"lambda": 541, "v": 0.1217, "s": "fit ellipsoide c/a=1,9"},
      {"lambda": 549, "v": 0.1330, "s": "fit ellipsoide c/a=1,9"},
      {"lambda": 556, "v": 0.1419, "s": "fit ellipsoide c/a=1,9"},
      {"lambda": 564, "v": 0.1490, "s": "fit ellipsoide c/a=1,9"},
      {"lambda": 572, "v": 0.1537, "s": "fit ellipsoide c/a=1,9"},
      {"lambda": 580, "v": 0.1554, "s": "fit ellipsoide c/a=1,9"},
      {"lambda": 586, "v": 0.1530, "s": "fit ellipsoide c/a=1,9"},
      {"lambda": 592, "v": 0.1470, "s": "fit ellipsoide c/a=1,9"},
      {"lambda": 598, "v": 0.1370, "s": "fit ellipsoide c/a=1,9"},
      {"lambda": 604, "v": 0.1267, "s": "fit ellipsoide c/a=1,9"},
      {"lambda": 610, "v": 0.1150, "s": "fit ellipsoide c/a=1,9"},
      {"lambda": 616, "v": 0.1048, "s": "fit ellipsoide c/a=1,9"},
      {"lambda": 622, "v": 0.0950, "s": "fit ellipsoide c/a=1,9"},
      {"lambda": 628, "v": 0.0860, "s": "fit ellipsoide c/a=1,9"},
      {"lambda": 636, "v": 0.0750, "s": "fit ellipsoide c/a=1,9"},
      {"lambda": 644, "v": 0.0650, "s": "fit ellipsoide c/a=1,9"},
      {"lambda": 652, "v": 0.0590, "s": "fit ellipsoide c/a=1,9"},
      {"lambda": 660, "v": 0.0530, "s": "fit ellipsoide c/a=1,9"},
      {"lambda": 668, "v": 0.0480, "s": "fit ellipsoide c/a=1,9"},
      {"lambda": 680, "v": 0.0420, "s": "fit ellipsoide c/a=1,9"},
      {"lambda": 695, "v": 0.0360, "s": "fit ellipsoide c/a=1,9"},
      {"lambda": 710, "v": 0.0315, "s": "fit ellipsoide c/a=1,9"},
      {"lambda": 728, "v": 0.0275, "s": "fit ellipsoide c/a=1,9"},
      {"lambda": 750, "v": 0.0240, "s": "fit ellipsoide c/a=1,9"},
      {"lambda": 776, "v": 0.0208, "s": "fit ellipsoide c/a=1,9"},
      {"lambda": 800, "v": 0.0180, "s": "fit ellipsoide c/a=1,9"},
      {"lambda": 823, "v": 0.0158, "s": "fit ellipsoide c/a=1,9"},
      {"lambda": 850, "v": 0.0138, "s": "fit ellipsoide c/a=1,9"},
      {"lambda": 879, "v": 0.0122, "s": "fit ellipsoide c/a=1,9"},
      {"lambda": 911, "v": 0.0105, "s": "fit ellipsoide c/a=1,9"},
      {"lambda": 950, "v": 0.0090, "s": "fit ellipsoide c/a=1,9"},
      {"lambda": 984, "v": 0.0081, "s": "fit ellipsoide c/a=1,9"},
      {"lambda": 1020, "v": 0.0072, "s": "fit ellipsoide c/a=1,9"},
      {"lambda": 1063, "v": 0.0063, "s": "fit ellipsoide c/a=1,9"},
      {"lambda": 1100, "v": 0.0060, "s": "fit ellipsoide c/a=1,9"},
      {"lambda": 1150, "v": 0.0057, "s": "fit ellipsoide c/a=1,9"},
      {"lambda": 1200, "v": 0.0055, "s": "fit ellipsoide c/a=1,9"}
    ]
  },
  "hconcat": [
    {
      "width": 374, "height": 356,
      "data": {"name": "left"},
      "layer": [
        {
          "transform": [{"filter": "datum.s === 'inversion'"}],
          "mark": {"type": "point", "shape": "diamond", "filled": true, "size": 140, "opacity": 1, "color": "#4F81BD"},
          "encoding": {
            "x": {"field": "lambda", "type": "quantitative", "scale": {"domain": [300, 1200], "nice": false, "zero": false}, "axis": {"values": [300, 600, 900, 1200], "format": "d", "title": "λ (nm)"}},
            "y": {"field": "v", "type": "quantitative", "scale": {"domain": [1.54, 1.7], "nice": false, "zero": false}, "axis": {"values": [1.54, 1.58, 1.62, 1.66, 1.7], "labelExpr": "replace(format(datum.value, '.2~f'), '.', ',')", "title": "Indice de réfraction n"}},
            "shape": {"field": "s", "type": "nominal", "scale": {"domain": ["inversion"], "range": ["diamond"]},
              "legend": {"orient": "none", "legendX": 138, "legendY": 244, "labelColor": "#4F81BD", "labelOffset": 20, "symbolSize": 140, "symbolFillColor": "#4F81BD", "symbolStrokeWidth": 0}}
          }
        },
        {
          "transform": [{"filter": "datum.s !== 'inversion'"}],
          "mark": {"type": "line", "strokeWidth": 3.5},
          "encoding": {
            "x": {"field": "lambda", "type": "quantitative"},
            "y": {"field": "v", "type": "quantitative"},
            "color": {"field": "s", "type": "nominal", "scale": {"domain": ["fit sphère c/a=1", "fit ellipsoide c/a=1,9"], "range": ["#C0504D", "#F79646"]},
              "legend": {"orient": "none", "legendX": 124, "legendY": 277, "symbolType": "stroke", "symbolSize": 2600, "symbolStrokeWidth": 3.5, "labelOffset": 5, "rowPadding": 6, "clipHeight": 26,
                "labelColor": {"expr": "datum.value === 'fit sphère c/a=1' ? '#C0504D' : '#F79646'"}}}
          }
        }
      ]
    },
    {
      "width": 379, "height": 356,
      "data": {"name": "right"},
      "layer": [
        {
          "transform": [{"filter": "datum.s === 'inversion'"}],
          "mark": {"type": "point", "shape": "diamond", "filled": true, "size": 140, "opacity": 1, "color": "#4F81BD"},
          "encoding": {
            "x": {"field": "lambda", "type": "quantitative", "scale": {"domain": [300, 1200], "nice": false, "zero": false}, "axis": {"values": [300, 600, 900, 1200], "format": "d", "title": "λ (nm)"}},
            "y": {"field": "v", "type": "quantitative", "scale": {"domain": [0, 0.18], "nice": false, "zero": false}, "axis": {"values": [0, 0.06, 0.12, 0.18], "labelExpr": "replace(format(datum.value, '.2f'), '.', ',')", "title": "Coefficient d'absorption k"}},
            "shape": {"field": "s", "type": "nominal", "scale": {"domain": ["inversion"], "range": ["diamond"]},
              "legend": {"orient": "none", "legendX": 168, "legendY": 57, "labelColor": "#4F81BD", "labelOffset": 20, "symbolSize": 140, "symbolFillColor": "#4F81BD", "symbolStrokeWidth": 0}}
          }
        },
        {
          "transform": [{"filter": "datum.s !== 'inversion'"}],
          "mark": {"type": "line", "strokeWidth": 3.5},
          "encoding": {
            "x": {"field": "lambda", "type": "quantitative"},
            "y": {"field": "v", "type": "quantitative"},
            "color": {"field": "s", "type": "nominal", "scale": {"domain": ["fit sphère c/a=1", "fit ellipsoide c/a=1,9"], "range": ["#C0504D", "#F79646"]},
              "legend": {"orient": "none", "legendX": 153, "legendY": 88, "symbolType": "stroke", "symbolSize": 2600, "symbolStrokeWidth": 3.5, "labelOffset": 5, "rowPadding": 5, "clipHeight": 26,
                "labelColor": {"expr": "datum.value === 'fit sphère c/a=1' ? '#C0504D' : '#F79646'"}}}
          }
        }
      ]
    }
  ],
  "spacing": 208,
  "bounds": "flush",
  "resolve": {"scale": {"color": "independent", "shape": "independent"}, "legend": {"color": "independent", "shape": "independent"}}
}
